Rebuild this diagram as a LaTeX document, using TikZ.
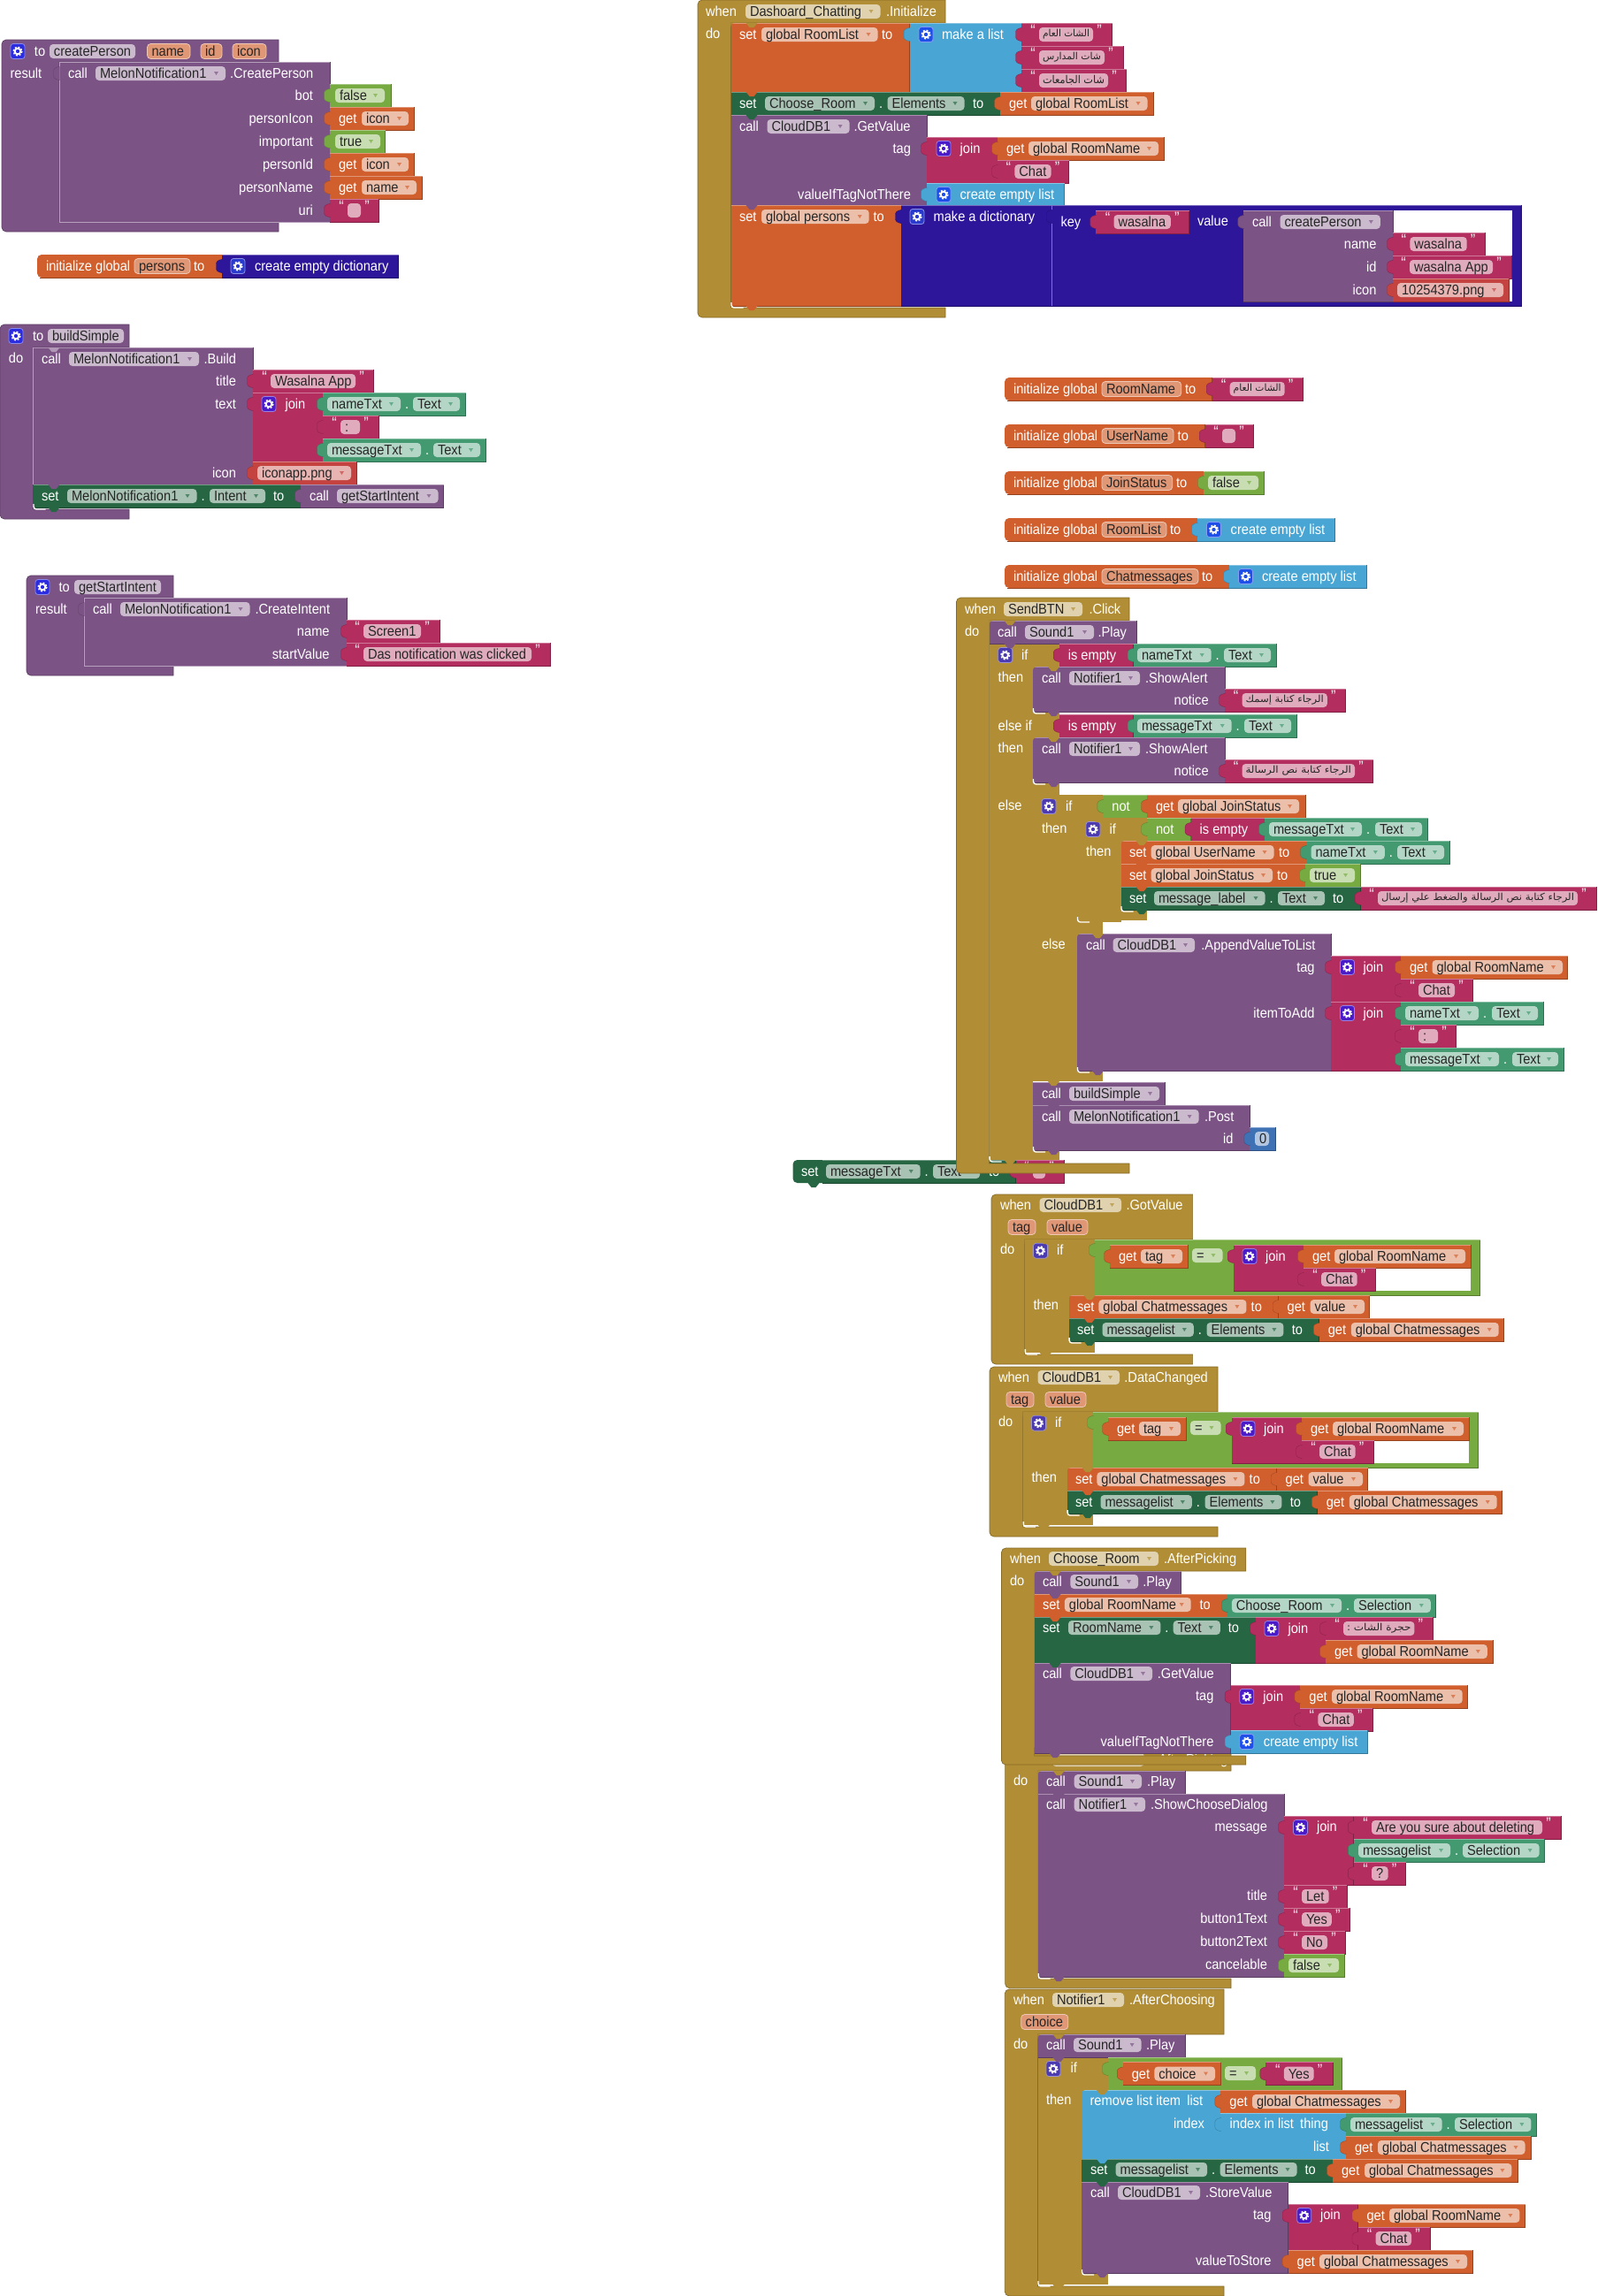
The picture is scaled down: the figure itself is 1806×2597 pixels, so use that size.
\documentclass[tikz,border=0pt]{standalone}
\usepackage{fontspec}
\usepackage{graphicx}
\setmainfont[FakeStretch=0.915]{Liberation Sans}
\newfontfamily\arabicfont[Script=Arabic]{DejaVu Sans}
\TeXXeTstate=1
\definecolor{cproc}{HTML}{7C5385}
\definecolor{cvar}{HTML}{D05F2D}
\definecolor{cstr}{HTML}{B32D5E}
\definecolor{clog}{HTML}{77AB41}
\definecolor{cctl}{HTML}{B18E35}
\definecolor{clist}{HTML}{49A6D4}
\definecolor{cdict}{HTML}{2D1699}
\definecolor{cteal}{HTML}{439970}
\definecolor{cset}{HTML}{266643}
\definecolor{cnum}{HTML}{3F71B5}
\definecolor{cass}{HTML}{C4423F}
\definecolor{gp}{HTML}{2B2BE0}
\definecolor{gj}{HTML}{4A1BC8}
\definecolor{gl}{HTML}{1E4FE8}
\definecolor{gc}{HTML}{4C3BB0}
\definecolor{gd}{HTML}{2A3ACD}
\newcounter{nid}
\tikzset{x=.5pt,y=-.5pt,lbl/.style={inner sep=0,outer sep=0,font=\fontsize{8}{9}\selectfont}}
\newcommand\wt[3]{\stepcounter{nid}\node[lbl,text=white,anchor=base west] (t\arabic{nid}) at (#1,#2+5.5) {#3};}
\newcommand\rt[3]{\stepcounter{nid}\node[lbl,text=white,anchor=base east] (t\arabic{nid}) at (#1,#2+5.5) {#3};}
\newcommand\bk[5]{\fill[#1] (#2,#3) rectangle (#4,#5);\draw[#1!72!black,line width=.4pt] (#4,#3) -- (#4,#5) -- (#2,#5);\draw[#1!65!white,line width=.3pt] (#2,#3) -- (#4,#3);}
\newcommand\gf[4]{\fill[cctl] (#1,#2) rectangle (#3,#4);}
\newcommand\tabb[3]{\filldraw[fill=#1,draw=#1!78!black,line width=.2pt,rounded corners=.6pt] (#2+.5,#3-7.5) -- (#2-3,#3-7) -- (#2-6.5,#3-4.5) -- (#2-6.5,#3+4.5) -- (#2-3,#3+7) -- (#2+.5,#3+7.5);}
\newcommand\vb[4]{\bk{#1}{#2}{#3-13}{#4}{#3+13}\tabb{#1}{#2}{#3}}
\newcommand\pl[5]{\stepcounter{nid}\fill[#1!40!white,rounded corners=2pt] (#2,#4-8) rectangle (#3,#4+8);\node[lbl,text=black!85,anchor=base west] (t\arabic{nid}) at (#2+5,#4+5.5) {#5};}
\newcommand\dd[5]{\pl{#1}{#2}{#3}{#4}{#5}\fill[#1!80!white] (#3-13,#4-2) -- (#3-8,#4-2) -- (#3-10.5,#4+2) -- cycle;}
\newcommand\pa[4]{\stepcounter{nid}\filldraw[fill=cvar!65!white,draw=cvar!35!white,line width=.4pt,rounded corners=2pt] (#1,#3-8.5) rectangle (#2,#3+8.5);\node[lbl,text=black!85,anchor=base west] (t\arabic{nid}) at (#1+5,#3+5.5) {#4};}
\newcommand\qq[3]{\stepcounter{nid}\node[lbl,font=\fontsize{9}{9}\selectfont,text=white!90!cstr] (t\arabic{nid}) at (#1,#2-4.5) {#3};}
\newcommand\sv[6]{\vb{cstr}{#1}{#2}{#3}\pl{cstr}{#4}{#5}{#2}{#6}\qq{#4-7}{#2}{“}\qq{#5+7}{#2}{”}}
\newcommand\av[6]{\vb{cstr}{#1}{#2}{#3}\stepcounter{nid}\fill[cstr!40!white,rounded corners=2pt] (#4,#2-8) rectangle (#5,#2+8);\qq{#4-7}{#2}{“}\qq{#5+7}{#2}{”}\pgfmathsetlengthmacro\arw{(#5-#4-8)*0.5pt}\node[lbl,text=black!85] (t\arabic{nid}x) at ({(#4+#5)/2},#2) {\resizebox*{\arw}{5.5pt}{\arabicfont #6}};}
\newcommand\dv[7]{\vb{#1}{#2}{#3}{#4}\dd{#1}{#5}{#6}{#3}{#7}}
\newcommand\gv[6]{\vb{cvar}{#1}{#2}{#3}\wt{#1+10}{#2}{get}\dd{cvar}{#4}{#5}{#2}{#6}}
\newcommand\cpp[8]{\dd{#1}{#3}{#4}{#2}{#5}\wt{#4+5}{#2}{.}\dd{#1}{#6}{#7}{#2}{#8}}
\newcommand\tv[9]{\vb{cteal}{#1}{#2}{#3}\cpp{cteal}{#2}{#4}{#5}{#6}{#7}{#8}{#9}}
\newcommand\gr[3][gj]{\filldraw[fill=#1,draw=#1!55!white,line width=.4pt,rounded corners=1.5pt] (#2-8,#3-8.5) rectangle (#2+8,#3+8.5);\draw[white,line width=.9pt] (#2,#3) circle[radius=3.3];\draw[white,line width=.7pt,dash pattern=on .98pt off .98pt] (#2,#3) circle[radius=5];}
\newcommand\nt[3]{\fill[#1] (#2+17,#3) -- (#2+21,#3+5) -- (#2+26,#3+5) -- (#2+30,#3) -- cycle;}
\newcommand\nf[2]{\nt{cctl}{#1}{#2}\fill[cctl] (#1-.2,#2-.2) -- (#1+5,#2-.2) .. controls (#1+1.5,#2+.2) and (#1,#2+1.5) .. (#1-.2,#2+5) -- cycle;}
\newcommand\cnr[2]{\draw[white,line width=.7pt,rounded corners=1.5pt] (#1+.5,#2-4) -- (#1+.5,#2+2) -- (#1+14,#2+2);}
\newcommand\cb[8]{\filldraw[fill=#1,draw=#1!75!black,line width=.35pt] (#4,#3) [rounded corners=2.5pt] -- (#2,#3) -- (#2,#8) [sharp corners] -- (#4,#8) -- (#4,#7) -- (#6,#7) -- (#6,#5) -- (#4,#5) -- cycle;}
\newcommand\ig[6]{\fill[cvar] (#3,#2-13) [rounded corners=2.5pt] -- (#1,#2-13) -- (#1,#2+13) [sharp corners] -- (#3,#2+13) -- cycle;\draw[cvar!72!black,line width=.4pt] (#1+3,#2+13) -- (#3,#2+13) -- (#3,#2-13);\wt{#1+10}{#2}{initialize global}\pa{#1+110}{#4}{#2}{#5}\wt{#6}{#2}{to}}
\newcommand\clist[4]{\vb{clist}{#1}{#2}{#3}\gr[gl]{#4}{#2}}
\newcommand\ifbody{%
\pa{1140}{1171}{1388}{tag}\pa{1184}{1230}{1388}{value}\wt{1131}{1413}{do}
\gf{1158.8}{1402}{1208.6}{1530}\gf{1208.6}{1402}{1238}{1465}\gf{1208.6}{1517}{1238}{1530}
\gr[gc]{1176.5}{1414.7}\wt{1195}{1414}{if}\wt{1168.6}{1476}{then}
\bk{clog}{1238}{1402}{1673.5}{1465}\tabb{clog}{1238}{1414}
\fill[white] (1555.5,1434) rectangle (1663,1460);
\gv{1255}{1421}{1343}{1290}{1337}{tag}\dd{clog}{1348}{1382.5}{1420}{=}
\bk{cstr}{1394.7}{1408}{1474}{1460}\tabb{cstr}{1394.7}{1421}\gr{1413}{1421}\wt{1431}{1421}{join}
\gv{1474}{1421}{1663}{1509}{1657}{global RoomName}\sv{1474}{1447}{1555.5}{1494}{1534.7}{Chat}
\bk{cvar}{1208.6}{1465}{1445.7}{1491}\wt{1218}{1478}{set}\dd{cvar}{1242.4}{1409.4}{1478}{global Chatmessages}\wt{1414.7}{1478}{to}
\gv{1445.7}{1478}{1548.6}{1481.6}{1543}{value}
\bk{cset}{1208.6}{1491}{1491.8}{1517}\wt{1218}{1504}{set}\cpp{cset}{1504}{1246.5}{1349.8}{messagelist}{1364.5}{1451.4}{Elements}\wt{1460.8}{1504}{to}
\gv{1491.8}{1504}{1700.4}{1527.8}{1694.7}{global Chatmessages}
\nf{1158.8}{1402}\nf{1208.6}{1465}\nt{cvar}{1208.6}{1491}\nt{cset}{1208.6}{1517}\nt{cctl}{1158.8}{1530}
\cnr{1208.6}{1517}\cnr{1158.8}{1530}}
\begin{document}
\begin{tikzpicture}
\useasboundingbox (0,0) rectangle (1806,2597);
\fill[white] (0,0) rectangle (1806,2597);
% createPerson
\cb{cproc}{2}{45}{315}{70}{67}{251}{262}
\gr[gp]{20}{58}\wt{39}{58}{to}\pl{cproc}{56}{153}{58}{createPerson}\pa{166.5}{215}{58}{name}\pa{227}{251}{58}{id}\pa{263}{301}{58}{icon}
\wt{11.5}{83}{result}
\bk{cproc}{67}{70}{373}{251}\draw[cproc!55!white,line width=.4pt] (67,251) -- (67,70) -- (373,70);\draw[cproc!55!white,line width=.4pt] (67,251) -- (373,251);\tabb{cproc}{67}{83}
\wt{77}{83}{call}\dd{cproc}{108}{255}{83}{MelonNotification1}\wt{260}{83}{.CreatePerson}
\rt{354}{108}{bot}\rt{354}{134}{personIcon}\rt{354}{160}{important}\rt{354}{186}{personId}\rt{354}{212}{personName}\rt{354}{238}{uri}
\dv{clog}{373}{108}{442}{379}{435}{false}
\gv{373}{134}{468}{409}{462}{icon}
\dv{clog}{373}{160}{435.5}{379}{430}{true}
\gv{373}{186}{468}{409}{462}{icon}
\gv{373}{212}{477.5}{409}{471}{name}
\sv{373}{238}{428}{393}{408}{}
% persons
\ig{42}{301}{251}{215}{persons}{219}
\vb{cdict}{251}{301}{450.6}\gr[gd]{269}{301}\wt{288}{301}{create empty dictionary}
% buildSimple
\cb{cproc}{0}{367}{146}{393}{37.5}{576}{587}
\gr[gp]{18}{380}\wt{37}{380}{to}\pl{cproc}{54}{140}{380}{buildSimple}\wt{10}{405}{do}
\bk{cproc}{37.5}{393}{286}{548}\draw[cproc!55!white,line width=.4pt] (37.5,548) -- (37.5,393);
\nt{cproc!60!white}{37.5}{393}
\wt{47}{406}{call}\dd{cproc}{78}{225}{406}{MelonNotification1}\wt{230.5}{406}{.Build}
\rt{267}{431}{title}\rt{267}{457}{text}\rt{267}{535}{icon}
\sv{286}{431}{422.4}{306}{402}{Wasalna App}
\bk{cstr}{286}{444}{365}{522}\tabb{cstr}{286}{457}\gr{304}{457}\wt{322.5}{457}{join}
\tv{365}{457}{526.5}{370}{453}{nameTxt}{467}{520}{Text}
\sv{365}{483}{428}{385}{407}{:}
\tv{365}{509}{549}{370}{476}{messageTxt}{490}{543}{Text}
\dv{cass}{286}{535}{403}{291}{397}{iconapp.png}
\bk{cset}{37.5}{548}{340}{574}\wt{47}{561}{set}\cpp{cset}{561}{76}{222.5}{MelonNotification1}{237}{300}{Intent}\wt{309}{561}{to}
\vb{cproc}{340}{561}{501.6}\wt{350}{561}{call}\dd{cproc}{381}{495.5}{561}{getStartIntent}
\nt{cproc}{37.5}{548}\nt{cset}{37.5}{574}\cnr{37.5}{574}
% getStartIntent
\cb{cproc}{30}{651}{196}{676}{95}{753}{764}
\gr[gp]{48}{664}\wt{66.5}{664}{to}\pl{cproc}{84}{182}{664}{getStartIntent}\wt{40}{689}{result}
\bk{cproc}{95}{676}{392}{753}\draw[cproc!55!white,line width=.4pt] (95,753) -- (95,676) -- (392,676);\draw[cproc!55!white,line width=.4pt] (95,753) -- (392,753);\tabb{cproc}{95}{689}
\wt{105}{689}{call}\dd{cproc}{136}{282.5}{689}{MelonNotification1}\wt{288.5}{689}{.CreateIntent}
\rt{372.6}{714}{name}\rt{372.6}{740}{startValue}
\sv{392}{714}{497}{411}{476}{Screen1}\sv{392}{740}{622}{411}{601}{Das notification was clicked}
% Initialize
\cb{cctl}{789}{0}{1069}{26}{826.5}{348}{359}
\wt{798}{13}{when}\dd{cctl}{843}{995.5}{13}{Dashoard\_Chatting}\wt{1002}{13}{.Initialize}\wt{798}{38}{do}
\bk{cvar}{826.5}{26}{1028.6}{104}\wt{836}{39}{set}\dd{cvar}{861}{992.5}{39}{global RoomList}\wt{997}{39}{to}
\bk{clist}{1028.6}{26}{1155}{104}\tabb{clist}{1028.6}{39}\gr[gl]{1047}{39}\wt{1065}{39}{make a list}
\av{1155}{39}{1257.6}{1175}{1236}{\beginR الشات العام\endR}
\av{1155}{65}{1270}{1175}{1249}{\beginR شات المدارس\endR}
\av{1155}{91}{1273.5}{1175}{1253}{\beginR شات الجامعات\endR}
\bk{cset}{826.5}{104}{1131}{130}\wt{836}{117}{set}\cpp{cset}{117}{865}{989}{Choose\_Room}{1003.5}{1090.5}{Elements}\wt{1100}{117}{to}
\gv{1131}{117}{1304}{1166}{1297.5}{global RoomList}
\bk{cproc}{826.5}{130}{1048}{232}\wt{836}{143}{call}\dd{cproc}{867.5}{960.6}{143}{CloudDB1}\wt{965.5}{143}{.GetValue}
\rt{1030}{168}{tag}\rt{1030}{220}{valueIfTagNotThere}
\bk{cstr}{1048}{155}{1128}{207}\tabb{cstr}{1048}{168}\gr{1067}{168}\wt{1085.6}{168}{join}
\gv{1128}{168}{1316.4}{1163}{1310}{global RoomName}
\sv{1128}{194}{1208.6}{1147.4}{1188.5}{Chat}
\clist{1048}{220}{1203.8}{1067}\wt{1085.6}{220}{create empty list}
\bk{cvar}{826.5}{232}{1019}{346}\wt{836}{245}{set}\dd{cvar}{861}{982.7}{245}{global persons}\wt{987.6}{245}{to}
\bk{cdict}{1019}{232}{1720}{346}\tabb{cdict}{1019}{245}\gr[gd]{1037}{245}\wt{1055.6}{245}{make a dictionary}
\draw[cdict!60!white,line width=.3pt] (1189.7,232) -- (1189.7,346);\tabb{cdict}{1189.7}{245}
\wt{1199.5}{251}{key}\sv{1239.3}{251}{1344.6}{1259.5}{1323.8}{wasalna}\wt{1354}{250}{value}
\fill[white] (1575,238) rectangle (1710,341);
\bk{cproc}{1406.4}{238}{1575}{341}\tabb{cproc}{1406.4}{251}\wt{1416}{251}{call}\dd{cproc}{1447.5}{1560.8}{251}{createPerson}
\rt{1556.5}{276}{name}\rt{1556.5}{302}{id}\rt{1556.5}{328}{icon}
\sv{1575}{276}{1679}{1594.4}{1658.7}{wasalna}\sv{1575}{302}{1709}{1594}{1688}{wasalna App}
\dv{cass}{1575}{328}{1706}{1580}{1700}{10254379.png}
\nf{826.5}{26}\nt{cvar}{826.5}{104}\nt{cset}{826.5}{130}\nt{cproc}{826.5}{232}\nt{cvar}{826.5}{346}\cnr{826.5}{346}
% init rows
\ig{1136}{440}{1370.7}{1335.7}{RoomName}{1340}\av{1370.7}{440}{1473}{1390.7}{1452.7}{\beginR الشات العام\endR}
\ig{1136}{493}{1362.7}{1327}{UserName}{1331.7}\sv{1362.7}{493}{1417}{1382}{1397}{}
\ig{1136}{546}{1361}{1325.7}{JoinStatus}{1330}\dv{clog}{1361}{546}{1429}{1366}{1423}{false}
\ig{1136}{599}{1354}{1319}{RoomList}{1323}\clist{1354}{599}{1509}{1372.5}\wt{1391.7}{599}{create empty list}
\ig{1136}{652}{1390}{1355}{Chatmessages}{1359}\clist{1390}{652}{1545}{1408.5}\wt{1427}{652}{create empty list}
% orphan set
\fill[cset,rounded corners=2.5pt] (896.5,1312) rectangle (1000,1338);\bk{cset}{930}{1312}{1148.7}{1338}
\wt{906}{1325}{set}\cpp{cset}{1325}{934}{1040.7}{messageTxt}{1055}{1108}{Text}\wt{1118}{1325}{to}
\sv{1148.7}{1325}{1203}{1168}{1182}{}\nt{cset}{896.5}{1338}
% SendBTN
\cb{cctl}{1081.4}{676}{1277}{702}{1118.6}{1316}{1327}
\wt{1091}{689}{when}\dd{cctl}{1135}{1224}{689}{SendBTN}\wt{1231.5}{689}{.Click}\wt{1091}{714}{do}
\gf{1118.6}{728}{1168}{1312}\gf{1168}{728}{1197.8}{754}\gf{1168}{805}{1197.8}{834}\gf{1168}{885}{1197.8}{899}\gf{1168}{1301}{1197.8}{1312}
\bk{cproc}{1118.6}{702}{1285}{728}\wt{1128}{715}{call}\dd{cproc}{1159}{1237}{715}{Sound1}\wt{1241.5}{715}{.Play}
\gr[gc]{1136.7}{741}\wt{1155}{741}{if}\wt{1128.7}{766}{then}\wt{1128.7}{821}{else if}\wt{1128.7}{846}{then}\wt{1128.7}{911}{else}
\vb{cstr}{1197.8}{741}{1281.6}\wt{1207.8}{741}{is empty}\tv{1281.6}{741}{1443}{1286}{1369.7}{nameTxt}{1384}{1437}{Text}
\bk{cproc}{1168}{754}{1385}{805}\wt{1178}{767}{call}\dd{cproc}{1209}{1289}{767}{Notifier1}\wt{1295}{767}{.ShowAlert}\rt{1366.7}{792}{notice}
\av{1385}{792}{1521.5}{1404.5}{1500.8}{\beginR الرجاء كتابة إسمك\endR}
\vb{cstr}{1197.8}{821}{1281.6}\wt{1207.8}{821}{is empty}\tv{1281.6}{821}{1466}{1286}{1392.7}{messageTxt}{1407}{1460}{Text}
\bk{cproc}{1168}{834}{1385}{885}\wt{1178}{847}{call}\dd{cproc}{1209}{1289}{847}{Notifier1}\wt{1295}{847}{.ShowAlert}\rt{1366.7}{872}{notice}
\av{1385}{872}{1552.8}{1404.5}{1532}{\beginR الرجاء كتابة نص الرسالة\endR}
% if 2
\gf{1168}{899}{1218}{1223}\gf{1218}{899}{1247.4}{925}\gf{1218}{1043}{1247.4}{1056}\gf{1168}{1211}{1247.4}{1223}
\gr[gc]{1186}{912}\wt{1205}{912}{if}\wt{1178}{937}{then}\wt{1178}{1068}{else}
\vb{clog}{1247.4}{912}{1297}\wt{1257.4}{912}{not}\gv{1297}{912}{1476}{1332}{1469}{global JoinStatus}
% if 3
\gf{1218}{925}{1267.5}{1043}\gf{1267.5}{925}{1297}{951}\gf{1218}{1029}{1297}{1041}
\gr[gc]{1236}{938}\wt{1254.5}{938}{if}\wt{1228}{963}{then}
\vb{clog}{1297}{938}{1346.6}\wt{1307}{938}{not}\vb{cstr}{1346.6}{938}{1430}\wt{1356.7}{938}{is empty}
\tv{1430}{938}{1614.8}{1435}{1540}{messageTxt}{1555}{1608}{Text}
\bk{cvar}{1267.5}{951}{1477}{977}\wt{1277}{964}{set}\dd{cvar}{1301.7}{1440.5}{964}{global UserName}\wt{1446}{964}{to}
\tv{1477}{964}{1639}{1482.5}{1565.8}{nameTxt}{1580}{1633}{Text}
\bk{cvar}{1267.5}{977}{1476}{1003}\wt{1277}{990}{set}\dd{cvar}{1301.7}{1439}{990}{global JoinStatus}\wt{1444}{990}{to}
\dv{clog}{1476}{990}{1538}{1481}{1532}{true}
\bk{cset}{1267.5}{1003}{1538.6}{1029}\wt{1277}{1016}{set}\cpp{cset}{1016}{1305}{1430.5}{message\_label}{1445}{1498}{Text}\wt{1507}{1016}{to}
\av{1538.6}{1016}{1805}{1558}{1784}{\beginR الرجاء كتابة نص الرسالة والضغط علي إرسال\endR}
% append
\bk{cproc}{1218}{1056}{1505}{1211}\wt{1228}{1069}{call}\dd{cproc}{1258.6}{1351}{1069}{CloudDB1}\wt{1358.4}{1069}{.AppendValueToList}
\rt{1486.6}{1094}{tag}\rt{1486.6}{1146}{itemToAdd}
\bk{cstr}{1505}{1081}{1584}{1133}\tabb{cstr}{1505}{1094}\gr{1523.5}{1094}\wt{1541.5}{1094}{join}
\gv{1584}{1094}{1772.5}{1619.5}{1767}{global RoomName}\sv{1584}{1120}{1665.6}{1604}{1645}{Chat}
\bk{cstr}{1505}{1133}{1584}{1211}\tabb{cstr}{1505}{1146}\gr{1523.5}{1146}\wt{1541.5}{1146}{join}
\tv{1584}{1146}{1745}{1589}{1672}{nameTxt}{1687}{1739}{Text}\sv{1584}{1172}{1646.7}{1604}{1626}{:}
\tv{1584}{1198}{1768}{1589}{1695}{messageTxt}{1710}{1762}{Text}
\bk{cproc}{1168}{1224}{1317}{1250}\wt{1178}{1237}{call}\dd{cproc}{1209}{1311}{1237}{buildSimple}
\bk{cproc}{1168}{1250}{1413.4}{1301}\wt{1178}{1263}{call}\dd{cproc}{1209}{1355.6}{1263}{MelonNotification1}\wt{1362}{1263}{.Post}\rt{1394.5}{1288}{id}
\vb{cnum}{1413.4}{1288}{1442}\pl{cnum}{1419}{1435}{1288}{0}
\nf{1118.6}{702}\nt{cproc}{1118.6}{728}\nf{1168}{754}\nt{cproc}{1168}{805}\nf{1168}{834}\nt{cproc}{1168}{885}\nf{1168}{899}\nf{1218}{925}\nf{1267.5}{951}\nt{cvar}{1267.5}{977}\nt{cvar}{1267.5}{1003}\nt{cset}{1267.5}{1029}\nt{cctl}{1218}{1041}\nf{1218}{1056}\nt{cproc}{1218}{1211}\nt{cctl}{1168}{1223}\nt{cproc}{1168}{1250}\nt{cproc}{1168}{1301}\nt{cctl}{1118.6}{1312}
\cnr{1168}{805}\cnr{1168}{885}\cnr{1267.5}{1029}\cnr{1218}{1041}\cnr{1218}{1211}\cnr{1168}{1301}\cnr{1118.6}{1312}
% GotValue, DataChanged
\cb{cctl}{1121}{1351}{1348.6}{1402}{1158.8}{1532}{1543}
\wt{1131}{1363}{when}\dd{cctl}{1175.5}{1268}{1363}{CloudDB1}\wt{1273.5}{1363}{.GotValue}
\ifbody
\cb{cctl}{1119}{1546}{1377}{1597}{1156.8}{1727}{1738}
\wt{1129}{1558}{when}\dd{cctl}{1173.5}{1266}{1558}{CloudDB1}\wt{1271.4}{1558}{.DataChanged}
\begin{scope}[shift={(-2,195)}]\ifbody\end{scope}
% hidden when
\cb{cctl}{1136.6}{1977}{1392}{2003}{1173.7}{2238}{2248.7}
\dd{cctl}{1190}{1293.7}{1990}{}\wt{1306}{1990}{.AfterPicking}
\wt{1146}{2014}{do}
\bk{cproc}{1173.7}{2003}{1340}{2029}\wt{1183}{2015}{call}\dd{cproc}{1214.7}{1291}{2015}{Sound1}\wt{1297}{2015}{.Play}
\bk{cproc}{1173.7}{2029}{1452}{2236}\wt{1183}{2041}{call}\dd{cproc}{1214.7}{1295}{2041}{Notifier1}\wt{1301}{2041}{.ShowChooseDialog}
\rt{1433}{2066}{message}\rt{1433}{2144}{title}\rt{1433}{2170}{button1Text}\rt{1433}{2196}{button2Text}\rt{1433}{2222}{cancelable}
\bk{cstr}{1452}{2054}{1530.8}{2132}\tabb{cstr}{1452}{2067}\gr{1470.5}{2067}\wt{1489}{2066}{join}
\sv{1530.8}{2067}{1765}{1551}{1744}{Are you sure about deleting}
\tv{1530.8}{2093}{1746.4}{1536}{1640}{messagelist}{1654}{1740.6}{Selection}
\sv{1530.8}{2119}{1589.7}{1551}{1569.6}{?}
\sv{1452}{2145}{1523}{1472}{1502.7}{Let}\sv{1452}{2171}{1526}{1472}{1505.8}{Yes}\sv{1452}{2197}{1521.4}{1472}{1501}{No}
\dv{clog}{1452}{2223}{1520}{1457}{1514}{false}
\nf{1173.7}{2003}\nt{cproc}{1173.7}{2029}\nt{cproc}{1173.7}{2236}\cnr{1173.7}{2236}
% Choose_Room
\cb{cctl}{1132.4}{1751}{1408.8}{1777}{1169.6}{1986}{1996}
\wt{1142}{1763}{when}\dd{cctl}{1186}{1310}{1763}{Choose\_Room}\wt{1316}{1763}{.AfterPicking}\wt{1142}{1788}{do}
\bk{cproc}{1169.6}{1777}{1335.7}{1803}\wt{1179}{1789}{call}\dd{cproc}{1210.4}{1287}{1789}{Sound1}\wt{1292.4}{1789}{.Play}
\bk{cvar}{1169.6}{1803}{1388}{1829}\wt{1179}{1815}{set}\dd{cvar}{1203.9}{1346.7}{1815}{global RoomName}\wt{1356.5}{1815}{to}
\tv{1388}{1816}{1623.5}{1392.9}{1517}{Choose\_Room}{1531}{1617.8}{Selection}
\bk{cset}{1169.6}{1829}{1420}{1881}\wt{1179}{1841}{set}\cpp{cset}{1841}{1208}{1312.4}{RoomName}{1326.7}{1379.8}{Text}\wt{1388.8}{1841}{to}
\bk{cstr}{1420}{1829}{1499}{1881}\tabb{cstr}{1420}{1842}\gr{1438}{1842}\wt{1456.5}{1842}{join}
\av{1499}{1842}{1620}{1519}{1599.4}{\beginR حجرة الشات :\endR}\gv{1499}{1868}{1688}{1534.5}{1681.8}{global RoomName}
\bk{cproc}{1169.6}{1881}{1391.6}{1983}\wt{1179}{1893}{call}\dd{cproc}{1210.4}{1303}{1893}{CloudDB1}\wt{1308.8}{1893}{.GetValue}
\rt{1372.4}{1918}{tag}\rt{1372.4}{1970}{valueIfTagNotThere}
\bk{cstr}{1391.6}{1906}{1470.4}{1958}\tabb{cstr}{1391.6}{1919}\gr{1409.8}{1919}\wt{1428.4}{1919}{join}
\gv{1470.4}{1919}{1659.4}{1506}{1653.7}{global RoomName}\sv{1470.4}{1945}{1552}{1490.4}{1530.8}{Chat}
\clist{1391.6}{1970}{1546.3}{1409.8}\wt{1428.8}{1970}{create empty list}
\nf{1169.6}{1777}\nt{cproc}{1169.6}{1803}\nt{cvar}{1169.6}{1829}\nt{cset}{1169.6}{1881}\nt{cproc}{1169.6}{1983}
% AfterChoosing
\cb{cctl}{1136.3}{2250}{1384}{2301}{1173.5}{2586}{2597}
\wt{1146}{2262}{when}\dd{cctl}{1190}{1271}{2262}{Notifier1}\wt{1277}{2262}{.AfterChoosing}\pa{1154.7}{1207.8}{2287}{choice}\wt{1146}{2312}{do}
\gf{1173.5}{2327}{1223}{2584}\gf{1223}{2327}{1253}{2364}\gf{1223}{2571}{1253}{2584}
\bk{cproc}{1173.5}{2301}{1340}{2327}\wt{1183}{2313}{call}\dd{cproc}{1214}{1290.6}{2313}{Sound1}\wt{1296}{2313}{.Play}
\gr[gc]{1191}{2340}\wt{1210.6}{2339}{if}\wt{1183}{2375}{then}
\bk{clog}{1253}{2327}{1517.5}{2364}\tabb{clog}{1253}{2340}
\gv{1269.8}{2345.5}{1380.4}{1305.3}{1374}{choice}\dd{clog}{1385}{1420}{2345}{=}\sv{1431.4}{2345.5}{1507}{1451.8}{1485.7}{Yes}
\bk{clist}{1223}{2364}{1380.4}{2442}\wt{1232.6}{2376}{remove list item\hspace{.45em}list}\rt{1362}{2402}{index}
\gv{1380.4}{2377}{1589}{1416}{1583}{global Chatmessages}
\bk{clist}{1380.4}{2390}{1522}{2442}\tabb{clist}{1380.4}{2403}\wt{1390.6}{2402}{index in list\hspace{.45em}thing}\rt{1503}{2428}{list}
\tv{1522}{2403}{1737.6}{1527}{1630.6}{messagelist}{1645}{1731.4}{Selection}
\gv{1522}{2429}{1731}{1558}{1724.5}{global Chatmessages}
\bk{cset}{1223}{2442}{1507}{2468}\wt{1233}{2454}{set}\cpp{cset}{2454}{1261.6}{1365}{messagelist}{1379.6}{1466.5}{Elements}\wt{1475.5}{2454}{to}
\gv{1507}{2455}{1716}{1543}{1709.4}{global Chatmessages}
\bk{cproc}{1223}{2468}{1456.7}{2571}\wt{1233}{2480}{call}\dd{cproc}{1264}{1357}{2480}{CloudDB1}\wt{1363}{2480}{.StoreValue}\rt{1437.5}{2505}{tag}\rt{1437.5}{2557}{valueToStore}
\bk{cstr}{1456.7}{2493}{1535.5}{2545}\tabb{cstr}{1456.7}{2506}\gr{1474.7}{2506}\wt{1493}{2505}{join}
\gv{1535.5}{2506}{1724.5}{1571}{1718.4}{global RoomName}\sv{1535.5}{2532}{1617}{1555.5}{1596}{Chat}
\gv{1456.7}{2558}{1665.3}{1492}{1659}{global Chatmessages}
\nf{1173.5}{2301}\nt{cproc}{1173.5}{2327}\nf{1223}{2364}\nt{clist}{1223}{2442}\nt{cset}{1223}{2468}\nt{cproc}{1223}{2571}\nt{cctl}{1173.5}{2584}\cnr{1223}{2571}\cnr{1173.5}{2584}
\end{tikzpicture}
\end{document}
